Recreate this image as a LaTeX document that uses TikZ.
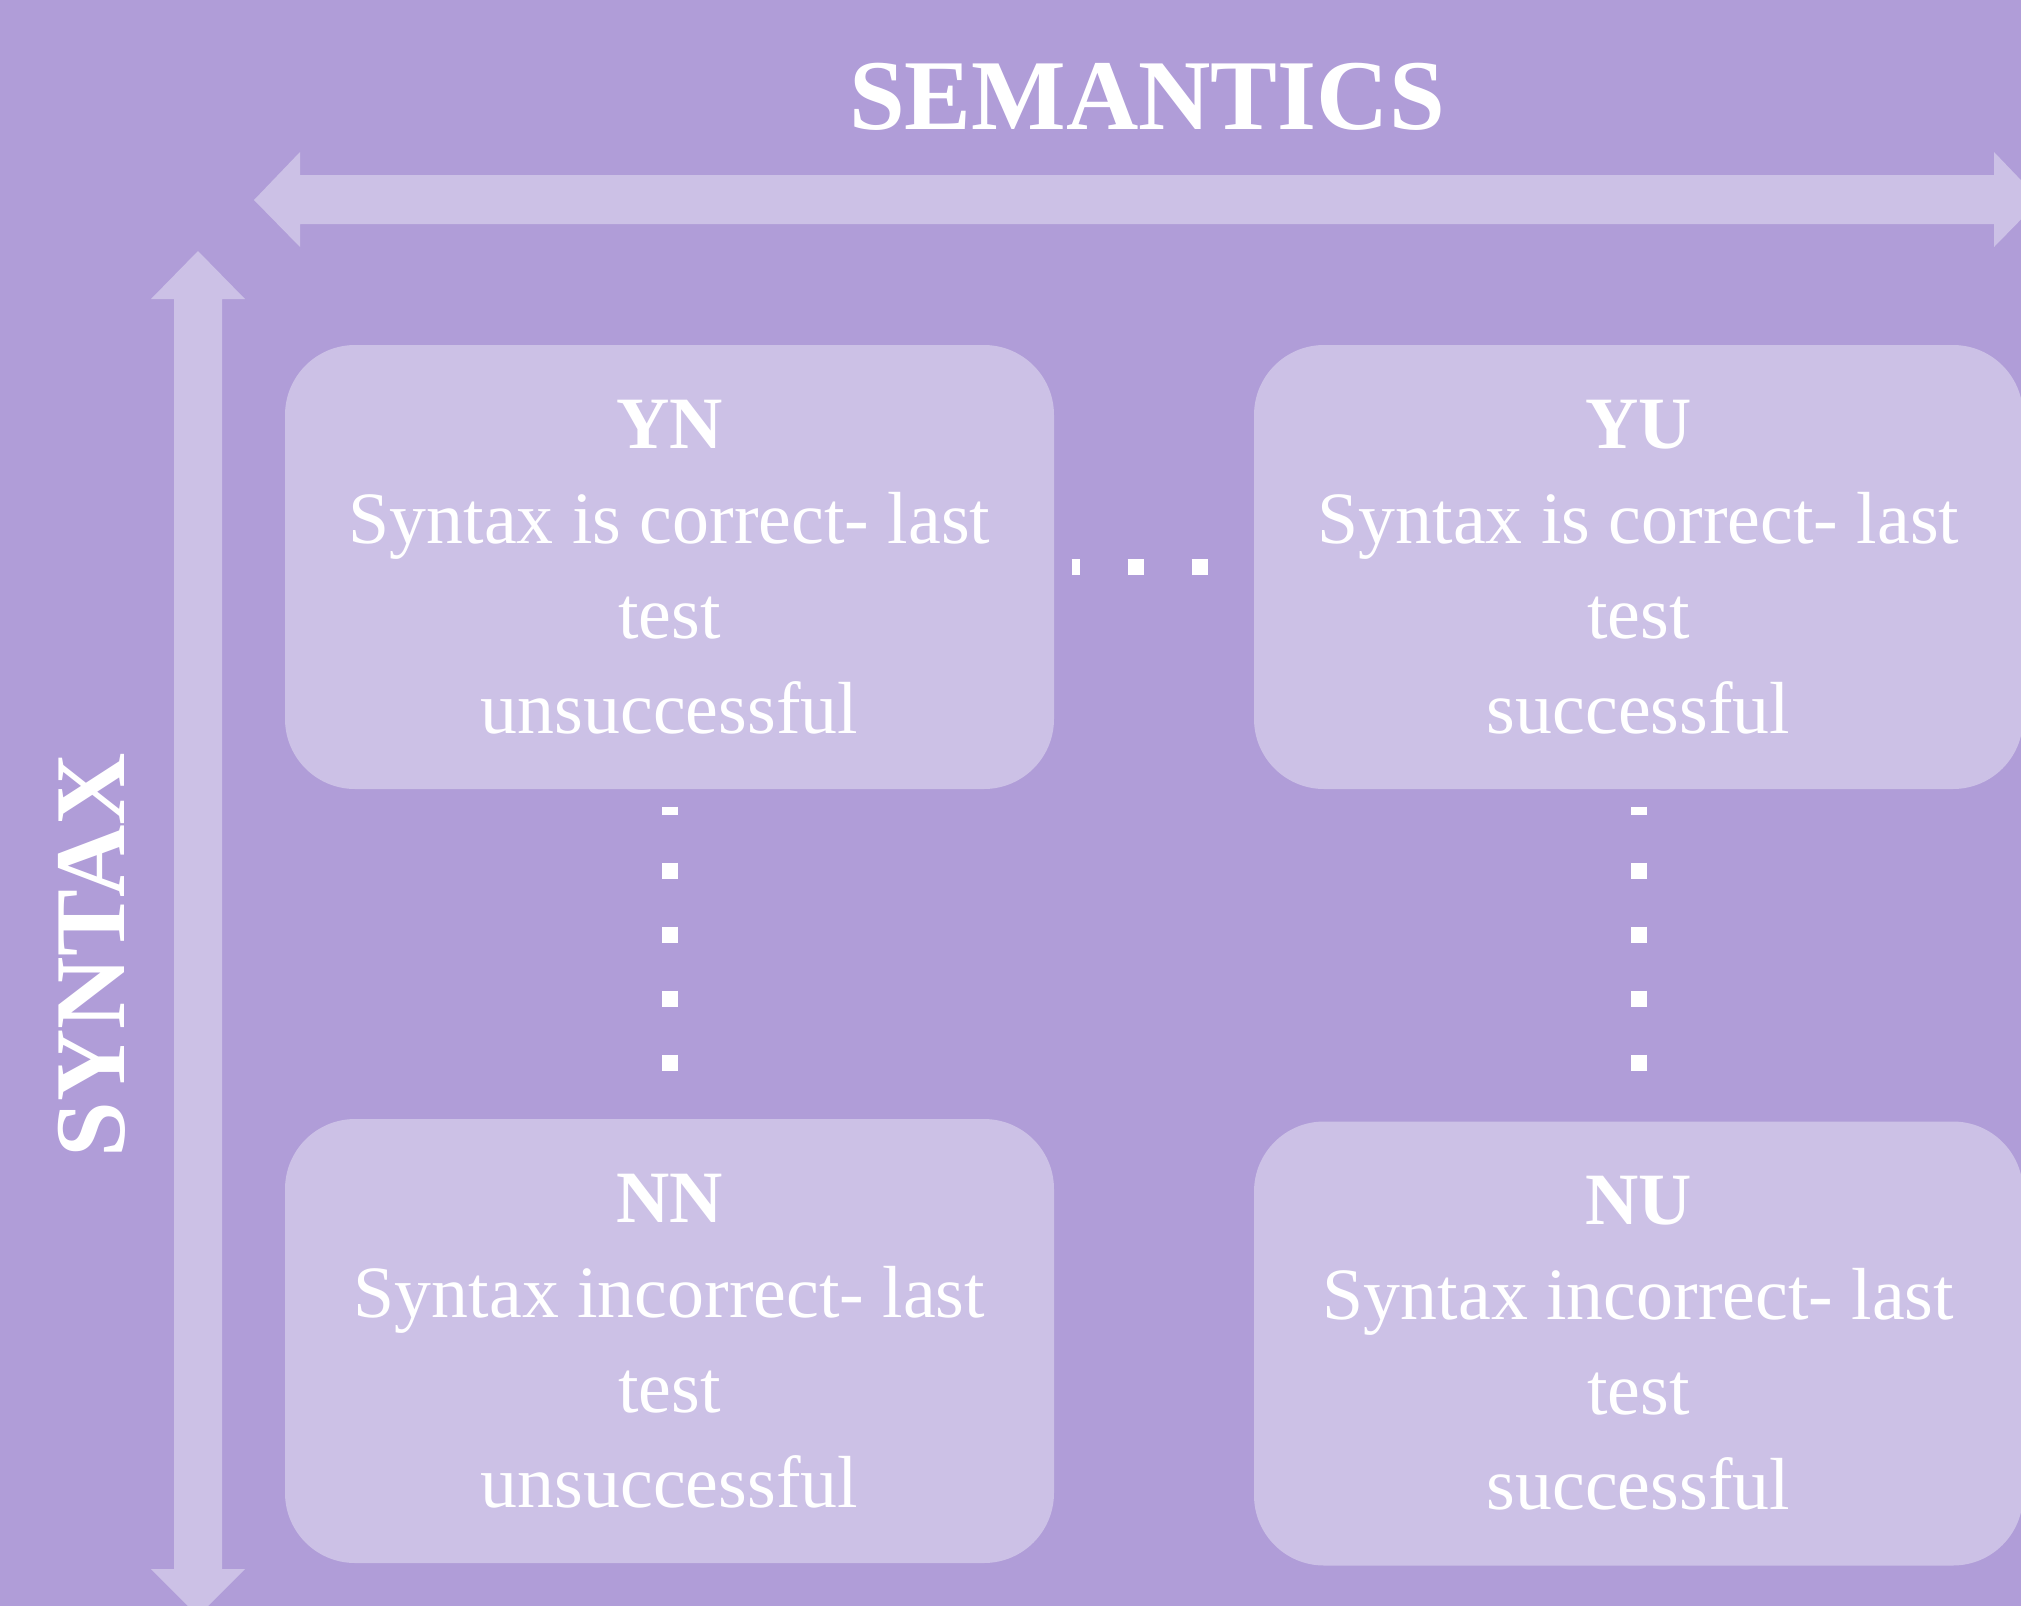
\documentclass[tikz,border=0pt]{standalone}
\usepackage{fontspec}
\setmainfont{Liberation Serif}
\definecolor{bgpurple}{RGB}{176,157,216}
\definecolor{lightpurple}{RGB}{204,193,230}

\begin{document}
\begin{tikzpicture}[x=0.1mm, y=-0.1mm,
  cell/.style={fill=lightpurple, rounded corners=7mm, minimum width=76.9mm,
    minimum height=44.4mm, inner sep=0pt, align=center, text=white,
    font=\fontsize{21}{27}\selectfont},
  axislabel/.style={text=white, inner sep=0pt,
    font=\fontsize{28.5}{30}\selectfont\bfseries},
  dotline/.style={draw=white, line width=1.6mm,
    dash pattern=on 1.6mm off 4.8mm, dash phase=0.8mm}]%
\useasboundingbox (0,0) rectangle (2021,1606);%
\fill [bgpurple] (0,0) rectangle (2021,1606);%
\clip (0,0) rectangle (2021,1606);%
% axes
\fill [lightpurple] (254,200) -- (300,152) -- (300,175) -- (1994,175)
  -- (1994,152) -- (2040,200) -- (1994,247) -- (1994,224) -- (300,224)
  -- (300,247) -- cycle;%
\fill [lightpurple] (198,251) -- (245,299) -- (222,299) -- (222,1569)
  -- (245,1569) -- (198,1616) -- (151,1569) -- (174,1569) -- (174,299)
  -- (151,299) -- cycle;%
\node [axislabel] (semantics) at (1147,97) {SEMANTICS};%
\node [axislabel, rotate=90] (syntax) at (92,955) {SYNTAX};%
% cells
\node [cell] (yn) at (669.5,567) {%
  \textbf{YN}\\Syntax is correct- last\\test\\unsuccessful};%
\node [cell] (yu) at (1638.5,567) {%
  \textbf{YU}\\Syntax is correct- last\\test\\successful};%
\node [cell] (nn) at (669.5,1341) {%
  \textbf{NN}\\Syntax incorrect- last\\test\\unsuccessful};%
\node [cell] (nu) at (1638.5,1343.5) {%
  \textbf{NU}\\Syntax incorrect- last\\test\\successful};%
% dotted links
\draw [dotline] ([xshift=1.7mm]yn.east) -- ([xshift=-1.7mm]yu.west);%
\draw [dotline] ([yshift=-1.7mm]yn.south) -- ([yshift=1.7mm]nn.north);%
\draw [dotline] ([yshift=-1.7mm]yu.south) -- ([yshift=1.7mm]nu.north);%
\end{tikzpicture}
\end{document}
